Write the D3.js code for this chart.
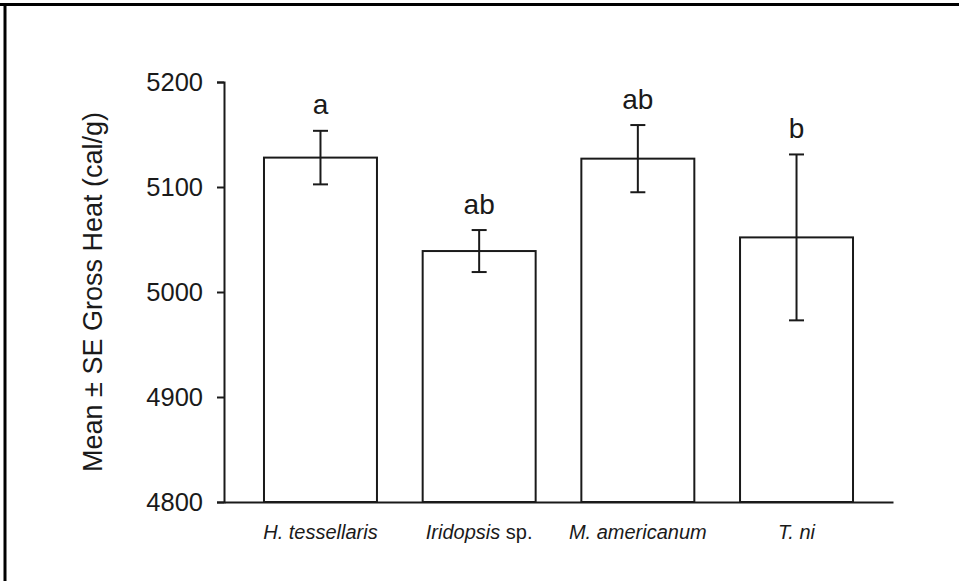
<!DOCTYPE html>
<html>
<head>
<meta charset="utf-8">
<script src="https://cdn.jsdelivr.net/npm/d3@7"></script>
<style>
  html, body { margin: 0; padding: 0; background: #fff; }
  svg { display: block; }
  text { font-family: "Liberation Sans", Arial, sans-serif; fill: #1a1a1a; }
</style>
</head>
<body>
<svg id="chart" width="959" height="581"></svg>
<script>
// ---- data ----
const categories = ["H. tessellaris", "Iridopsis sp.", "M. americanum", "T. ni"];
const labelItalic = ["H. tessellaris", "Iridopsis", "M. americanum", "T. ni"];
const labelRoman = ["", " sp.", "", ""];
const means = [5128, 5039, 5127, 5052];
const se = [25.5, 20, 32, 79];
const letters = ["a", "ab", "ab", "b"];
const yTicks = [4800, 4900, 5000, 5100, 5200];
const yLabel = "Mean \u00B1 SE Gross Heat (cal/g)";

// ---- layout ----
const svg = d3.select("#chart");
const W = 959, H = 581;
const x0 = 224, x1 = 893, yTop = 82, yBot = 502;
const ink = "#1a1a1a";

// frame (top + left edge of the figure)
svg.append("line").attr("x1", 0).attr("x2", W).attr("y1", 4.5).attr("y2", 4.5)
  .attr("stroke", "#000").attr("stroke-width", 3);
svg.append("line").attr("x1", 5).attr("x2", 5).attr("y1", 3).attr("y2", H)
  .attr("stroke", "#000").attr("stroke-width", 3);

const x = d3.scaleBand().domain(categories).range([x0, x1])
  .paddingInner(0.288).paddingOuter(0.252);
const y = d3.scaleLinear().domain([4800, 5200]).range([yBot, yTop]);

// bars
svg.append("g").selectAll("rect").data(categories).join("rect")
  .attr("x", d => x(d))
  .attr("y", (d, i) => y(means[i]))
  .attr("width", x.bandwidth())
  .attr("height", (d, i) => yBot - y(means[i]))
  .attr("fill", "#fff")
  .attr("stroke", ink)
  .attr("stroke-width", 2);

// error bars
const cap = 7.5;
const eg = svg.append("g").attr("stroke", ink).attr("stroke-width", 2);
categories.forEach((c, i) => {
  const cx = x(c) + x.bandwidth() / 2;
  const hi = y(means[i] + se[i]), lo = y(means[i] - se[i]);
  eg.append("line").attr("x1", cx).attr("x2", cx).attr("y1", hi).attr("y2", lo);
  eg.append("line").attr("x1", cx - cap).attr("x2", cx + cap).attr("y1", hi).attr("y2", hi);
  eg.append("line").attr("x1", cx - cap).attr("x2", cx + cap).attr("y1", lo).attr("y2", lo);
});

// significance letters
svg.append("g").selectAll("text").data(categories).join("text")
  .attr("x", d => x(d) + x.bandwidth() / 2)
  .attr("y", (d, i) => y(means[i] + se[i]) - 16.5)
  .attr("text-anchor", "middle")
  .attr("font-size", 28)
  .text((d, i) => letters[i]);

// y axis
const yAxis = svg.append("g").attr("transform", `translate(${x0},0)`)
  .call(d3.axisLeft(y).tickValues(yTicks).tickSize(7).tickPadding(14).tickFormat(d3.format("d")));
yAxis.selectAll("path, line").attr("stroke", ink).attr("stroke-width", 2);
yAxis.selectAll("text").attr("font-size", 25.5).attr("fill", ink)
  .attr("font-family", "Liberation Sans, Arial, sans-serif");

// x axis
const xAxis = svg.append("g").attr("transform", `translate(0,${yBot})`)
  .call(d3.axisBottom(x).tickSize(0).tickSizeOuter(0).tickFormat(""));
xAxis.select("path").attr("stroke", ink).attr("stroke-width", 2);

// x category labels (italic genus/species, roman "sp.")
const xl = svg.append("g").selectAll("text").data(categories).join("text")
  .attr("x", d => x(d) + x.bandwidth() / 2)
  .attr("y", 539)
  .attr("text-anchor", "middle")
  .attr("font-size", 20);
xl.append("tspan").attr("font-style", "italic").text((d, i) => labelItalic[i]);
xl.append("tspan").text((d, i) => labelRoman[i]);

// y label
svg.append("text")
  .attr("transform", `translate(102,${(yTop + yBot) / 2}) rotate(-90)`)
  .attr("text-anchor", "middle")
  .attr("font-size", 27)
  .text(yLabel);
</script>
</body>
</html>
